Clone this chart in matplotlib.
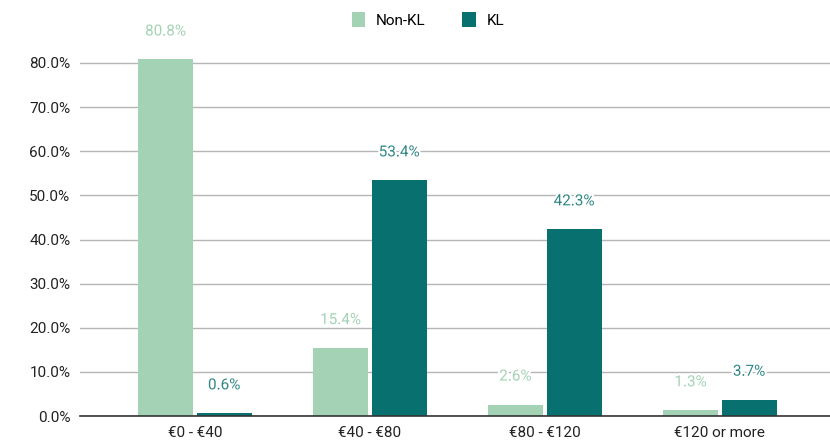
import matplotlib
matplotlib.use("Agg")
import matplotlib.pyplot as plt
import matplotlib.patheffects as pe
import numpy as np
from matplotlib.patches import Patch

categories = ["€0 - €40", "€40 - €80", "€80 - €120", "€120 or more"]
series_names = ["Non-KL", "KL"]
non_kl = [80.8, 15.4, 2.6, 1.3]
kl = [0.6, 53.4, 42.3, 3.7]
y_ticks = [0, 10, 20, 30, 40, 50, 60, 70, 80]
y_tick_labels = ["0.0%", "10.0%", "20.0%", "30.0%", "40.0%", "50.0%", "60.0%", "70.0%", "80.0%"]

plt.rcParams['font.family'] = ['Roboto', 'DejaVu Sans']

c_non = "#a4d2b4"
c_kl = "#08716f"
c_non_lbl = "#a4d2b4"
c_kl_lbl = "#2f8784"

fig = plt.figure(figsize=(8.3, 4.46), dpi=100)
ax = fig.add_axes([80/830, 30/446, 750/830, (416-30)/446])

x = np.arange(len(categories))
w = 0.315
b1 = ax.bar(x - w/2 - 0.01, non_kl, width=w, color=c_non, zorder=3)
b2 = ax.bar(x + w/2 + 0.01, kl, width=w, color=c_kl, zorder=3)

halo = [pe.withStroke(linewidth=3, foreground="white")]
for bars, vals, col in [(b1, non_kl, c_non_lbl), (b2, kl, c_kl_lbl)]:
    for r, v in zip(bars, vals):
        ax.annotate(f"{v:.1f}%", (r.get_x() + r.get_width()/2, v),
                    xytext=(0, 28), textcoords="offset pixels",
                    ha="center", va="center", fontsize=11, color=col,
                    path_effects=halo, zorder=5)

ax.set_xlim(-0.657, 3.63)
ax.set_ylim(0, 80 * (416-30) / (416-63))
ax.set_yticks(y_ticks)
ax.set_yticklabels(y_tick_labels, fontsize=11, color="#222222")
ax.set_xticks(x)
ax.set_xticklabels(categories, fontsize=11, color="#222222")
ax.tick_params(axis="both", length=0, pad=7)
ax.grid(axis="y", color="#b5b5b5", linewidth=1, zorder=0)
for s in ["top", "right", "left"]:
    ax.spines[s].set_visible(False)
ax.spines["bottom"].set_color("#333333")
ax.spines["bottom"].set_linewidth(1.2)
ax.spines["bottom"].set_zorder(4)

handles = [Patch(facecolor=c_non, edgecolor="none"), Patch(facecolor=c_kl, edgecolor="none")]
fig.legend(handles, series_names, loc="center", bbox_to_anchor=(428/830, 1 - 20/446),
           ncol=2, frameon=False, fontsize=11, handlelength=0.9, handleheight=1.1,
           handletextpad=0.7, columnspacing=2.4)

fig.savefig("out.png", dpi=100)
